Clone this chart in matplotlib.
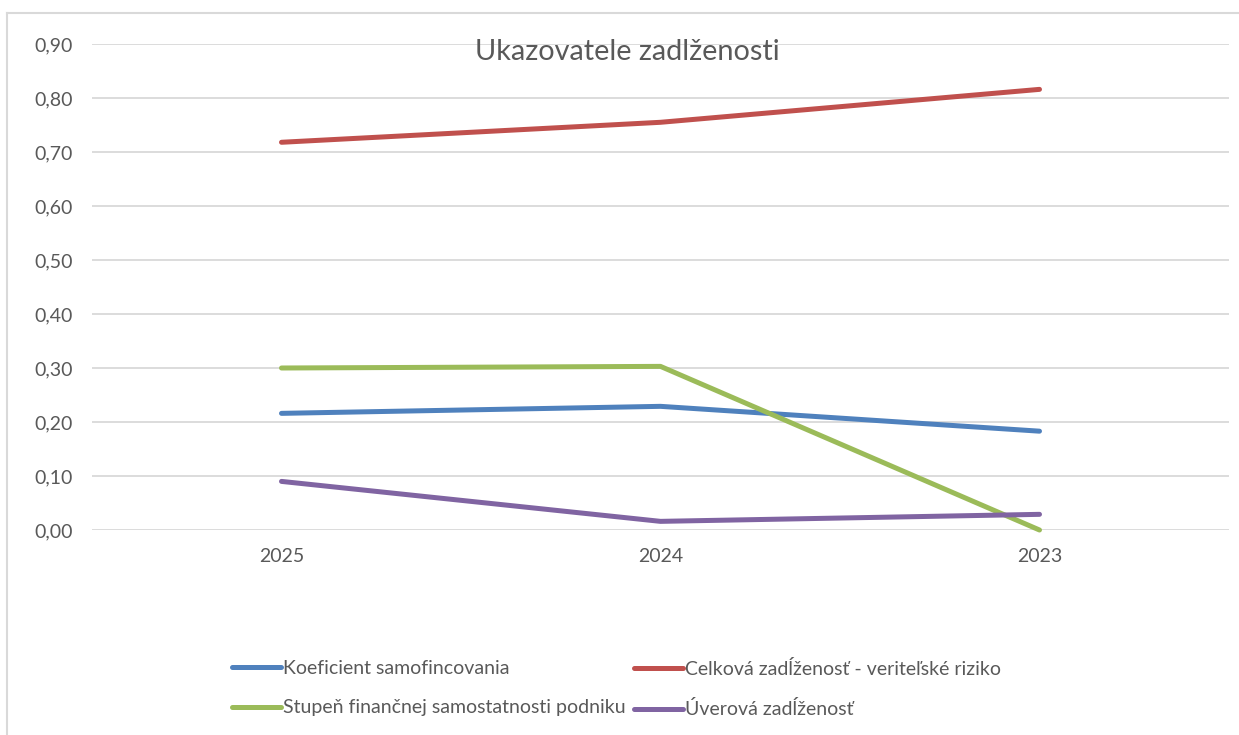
import matplotlib
matplotlib.use("Agg")
import matplotlib.pyplot as plt
from matplotlib.lines import Line2D

plt.rcParams['font.family'] = ['Lato', 'DejaVu Sans']

years = ["2025", "2024", "2023"]
koef_samofin = [0.216, 0.229, 0.183]
celkova_zadl = [0.718, 0.755, 0.816]
stupen_fin = [0.300, 0.303, 0.000]
uverova_zadl = [0.090, 0.016, 0.029]

series_names = ["Koeficient samofincovania",
                "Celková zadĺženosť - veriteľské riziko",
                "Stupeň finančnej samostatnosti podniku",
                "Úverová zadĺženosť"]
series_values = [koef_samofin, celkova_zadl, stupen_fin, uverova_zadl]
colors = ["#4F81BD", "#C0504D", "#9BBB59", "#8064A2"]
yticks = [0.0, 0.1, 0.2, 0.3, 0.4, 0.5, 0.6, 0.7, 0.8, 0.9]

W, H = 1239, 735
fig = plt.figure(figsize=(W / 100, H / 100), dpi=100)
ax = fig.add_axes([92 / W, (H - 530) / H, (1229 - 92) / W, 486 / H])

x = list(range(len(years)))
handles = []
for name, vals, c in zip(series_names, series_values, colors):
    ln, = ax.plot(x, vals, color=c, lw=3.6, solid_capstyle='round',
                  clip_on=False, label=name, zorder=3)
    handles.append(ln)

ax.set_xlim(-0.5, 2.5)
ax.set_ylim(0, 0.9)
ax.set_yticks(yticks)
ax.set_yticklabels([f"{v:.2f}".replace(".", ",") for v in yticks])
ax.set_xticks(x)
ax.set_xticklabels(years)
ax.grid(axis='y', color='#D9D9D9', lw=1.3)
ax.set_axisbelow(True)
for s in ax.spines.values():
    s.set_visible(False)
ax.tick_params(axis='both', length=0, colors='#595959', labelsize=14)
ax.tick_params(axis='y', pad=14)
ax.tick_params(axis='x', pad=13)

fig.text(627 / W, 1 - 52 / H, "Ukazovatele zadlženosti", ha='center', va='center',
         fontsize=20.8, color='#595959')

# chart border
fig.add_artist(Line2D([7 / W, 1.0], [1 - 13 / H, 1 - 13 / H], color='#D9D9D9', lw=1.5,
                      transform=fig.transFigure))
fig.add_artist(Line2D([7 / W, 7 / W], [1 - 13 / H, 0], color='#D9D9D9', lw=1.5,
                      transform=fig.transFigure))

leg_kw = dict(frameon=False, fontsize=14, handlelength=2.5, handletextpad=0.12,
              labelspacing=1.15, labelcolor='#595959', borderpad=0, borderaxespad=0)
l1 = fig.legend([handles[0], handles[2]], [series_names[0], series_names[2]],
                loc='upper left', bbox_to_anchor=(232 / W, 1 - 660 / H), **leg_kw)
l2 = fig.legend([handles[1], handles[3]], [series_names[1], series_names[3]],
                loc='upper left', bbox_to_anchor=(634 / W, 1 - 660 / H), **leg_kw)

fig.savefig("out.png", dpi=100)
